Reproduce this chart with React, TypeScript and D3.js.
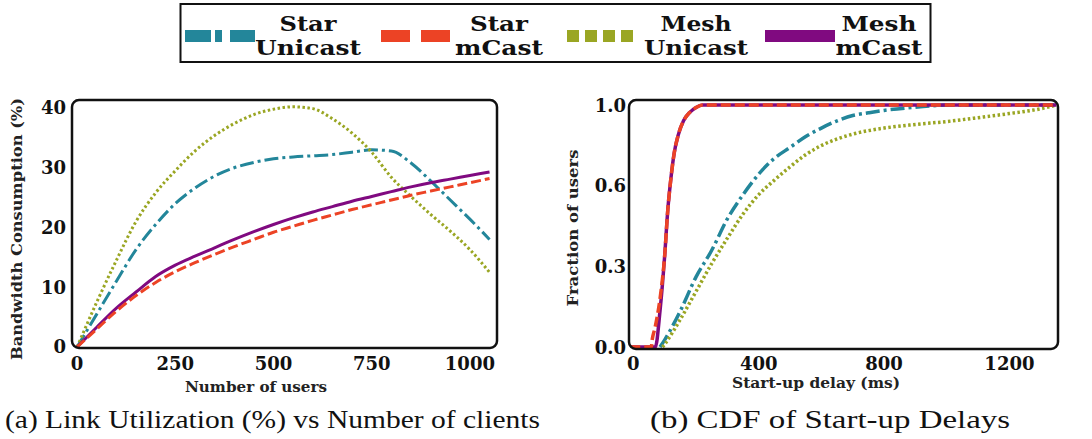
import { useEffect, useRef } from 'react'
import * as d3 from 'd3'

// Left panel: bandwidth consumption vs number of users
const users = [0, 50, 100, 150, 200, 250, 300, 350, 400, 450, 500, 550, 600, 650, 700, 750, 800, 850, 900, 950, 1000, 1050]
const starUnicastBw = [0, 5.5, 11, 16.3, 20.5, 24, 26.6, 28.6, 30, 30.9, 31.5, 31.8, 32, 32.2, 32.6, 33, 32.8, 30.8, 27.8, 24.6, 21.4, 18]
const starMcastBw = [0, 3, 6, 8.6, 10.8, 12.6, 14.1, 15.5, 16.8, 18, 19.2, 20.2, 21.2, 22.1, 23, 23.8, 24.6, 25.4, 26.1, 26.8, 27.5, 28.2]
const meshUnicastBw = [0, 7.5, 14.5, 21, 25.8, 29.5, 32.8, 35.4, 37.4, 38.9, 39.8, 40.2, 39.9, 38.2, 35.8, 32.6, 28.4, 25.2, 22.2, 19.4, 16.3, 12.5]
const meshMcastBw = [0, 3.3, 6.5, 9.2, 11.8, 13.7, 15.2, 16.6, 18, 19.3, 20.5, 21.6, 22.6, 23.5, 24.4, 25.2, 26, 26.8, 27.5, 28.1, 28.7, 29.3]

// Right panel: CDF of start-up delays
const starUnicastDelay = [85, 100, 150, 200, 250, 300, 350, 400, 450, 500, 550, 600, 650, 700, 750, 800, 900, 1000, 1350]
const starUnicastFrac = [0, 0.03, 0.15, 0.29, 0.4, 0.53, 0.63, 0.715, 0.78, 0.825, 0.87, 0.905, 0.935, 0.957, 0.968, 0.978, 0.991, 1, 1]
const starMcastDelay = [-10, 57, 60, 69, 85, 100, 110, 120, 130, 143, 160, 180, 200, 220, 1350]
const starMcastFrac = [0, 0, 0.03, 0.08, 0.2, 0.38, 0.57, 0.7, 0.8, 0.876, 0.935, 0.97, 0.99, 1, 1]
const meshUnicastDelay = [93, 100, 150, 200, 250, 300, 350, 400, 450, 500, 550, 600, 650, 700, 800, 900, 1000, 1100, 1200, 1300, 1350]
const meshUnicastFrac = [0, 0.012, 0.115, 0.23, 0.345, 0.45, 0.55, 0.63, 0.69, 0.745, 0.795, 0.833, 0.86, 0.88, 0.905, 0.92, 0.932, 0.948, 0.965, 0.985, 1]
const meshMcastDelay = [-10, 70, 85, 100, 110, 120, 130, 143, 160, 180, 200, 220, 1350]
const meshMcastFrac = [0, 0, 0.15, 0.38, 0.57, 0.7, 0.8, 0.876, 0.935, 0.97, 0.99, 1, 1]

const bwTicks = [0, 10, 20, 30, 40]
const userTicks = [0, 250, 500, 750, 1000]
const fracTicks = [0, 1 / 3, 2 / 3, 1]
const fracTickLabels = ['0.0', '0.3', '0.6', '1.0']
const delayTicks = [0, 400, 800, 1200]

const COLORS = {
  starUnicast: '#23869a',
  starMcast: '#ec4325',
  meshUnicast: '#9aa623',
  meshMcast: '#800a80',
}

const DASH = {
  starUnicast: '14,4,3,4',
  starMcast: '10,4',
  meshUnicast: '2.5,2.5',
  meshMcast: null as string | null,
}

const tickFont = 'DejaVu Serif'

export default function App() {
  const svgRef = useRef<SVGSVGElement>(null)

  useEffect(() => {
    if (!svgRef.current) return
    const svg = d3.select(svgRef.current)
    svg.selectAll('*').remove()

    svg.append('rect').attr('width', 1092).attr('height', 439).attr('fill', '#fff')

    // ---------- Legend ----------
    const legend = svg.append('g')
    legend
      .append('rect')
      .attr('x', 180.5)
      .attr('y', 4)
      .attr('width', 750)
      .attr('height', 58)
      .attr('fill', 'none')
      .attr('stroke', '#111')
      .attr('stroke-width', 2)

    const legendItems = [
      { key: 'starUnicast', x1: 185, x2: 255, dash: '26,4,7,8', l1: 'Star', l2: 'Unicast', cx: 308, w1: 57, w2: 106 },
      { key: 'starMcast', x1: 381, x2: 451, dash: '29,11', l1: 'Star', l2: 'mCast', cx: 499, w1: 58, w2: 88 },
      { key: 'meshUnicast', x1: 567, x2: 638, dash: '12,6', l1: 'Mesh', l2: 'Unicast', cx: 696, w1: 71, w2: 104 },
      { key: 'meshMcast', x1: 765, x2: 835, dash: null, l1: 'Mesh', l2: 'mCast', cx: 879, w1: 75, w2: 87 },
    ]
    legendItems.forEach((it) => {
      const ln = legend
        .append('line')
        .attr('x1', it.x1)
        .attr('x2', it.x2)
        .attr('y1', 36)
        .attr('y2', 36)
        .attr('stroke', (COLORS as any)[it.key])
        .attr('stroke-width', 12)
      if (it.dash) ln.attr('stroke-dasharray', it.dash)
      legend
        .append('text')
        .attr('x', it.cx)
        .attr('y', 31)
        .attr('text-anchor', 'middle')
        .attr('font-family', tickFont)
        .attr('font-weight', 'bold')
        .attr('font-size', 20)
        .attr('fill', '#111')
        .attr('textLength', it.w1)
        .attr('lengthAdjust', 'spacingAndGlyphs')
        .text(it.l1)
      legend
        .append('text')
        .attr('x', it.cx)
        .attr('y', 55)
        .attr('text-anchor', 'middle')
        .attr('font-family', tickFont)
        .attr('font-weight', 'bold')
        .attr('font-size', 20)
        .attr('fill', '#111')
        .attr('textLength', it.w2)
        .attr('lengthAdjust', 'spacingAndGlyphs')
        .text(it.l2)
    })

    const drawFrame = (x0: number, x1: number, y0: number, y1: number, id: string) => {
      svg
        .append('clipPath')
        .attr('id', id)
        .append('rect')
        .attr('x', x0)
        .attr('y', y0)
        .attr('width', x1 - x0)
        .attr('height', y1 - y0)
        .attr('rx', 7)
    }

    const drawSeries = (
      g: d3.Selection<SVGGElement, unknown, null, undefined>,
      xs: number[],
      ys: number[],
      x: d3.ScaleLinear<number, number>,
      y: d3.ScaleLinear<number, number>,
      key: keyof typeof COLORS,
      width = 3
    ) => {
      const pts = xs.map((v, i) => [v, ys[i]] as [number, number])
      const line = d3
        .line<[number, number]>()
        .x((d) => x(d[0]))
        .y((d) => y(d[1]))
        .curve(d3.curveMonotoneX)
      const p = g
        .append('path')
        .datum(pts)
        .attr('fill', 'none')
        .attr('stroke', COLORS[key])
        .attr('stroke-width', width)
        .attr('d', line)
      const dash = DASH[key]
      if (dash) p.attr('stroke-dasharray', dash)
    }

    // ---------- Left panel ----------
    const L = { x0: 72, x1: 497, y0: 100, y1: 348 }
    const xL = d3.scaleLinear().domain([-13, 1069]).range([L.x0, L.x1])
    const yL = d3.scaleLinear().domain([-0.17, 41.34]).range([L.y1, L.y0])
    drawFrame(L.x0, L.x1, L.y0, L.y1, 'clipL')
    const gL = svg.append('g').attr('clip-path', 'url(#clipL)')
    drawSeries(gL, users, starUnicastBw, xL, yL, 'starUnicast')
    drawSeries(gL, users, meshUnicastBw, xL, yL, 'meshUnicast')
    drawSeries(gL, users, meshMcastBw, xL, yL, 'meshMcast')
    drawSeries(gL, users, starMcastBw, xL, yL, 'starMcast')

    svg
      .append('rect')
      .attr('x', L.x0)
      .attr('y', L.y0)
      .attr('width', L.x1 - L.x0)
      .attr('height', L.y1 - L.y0)
      .attr('rx', 7)
      .attr('fill', 'none')
      .attr('stroke', '#111')
      .attr('stroke-width', 2.5)

    bwTicks.forEach((t) => {
      svg
        .append('text')
        .attr('x', 66)
        .attr('y', yL(t))
        .attr('dy', '0.36em')
        .attr('text-anchor', 'end')
        .attr('font-family', tickFont)
        .attr('font-weight', 'bold')
        .attr('font-size', 18)
        .attr('fill', '#111')
        .text(String(t))
    })
    userTicks.forEach((t) => {
      svg
        .append('text')
        .attr('x', xL(t))
        .attr('y', 370)
        .attr('text-anchor', 'middle')
        .attr('font-family', tickFont)
        .attr('font-weight', 'bold')
        .attr('font-size', 18)
        .attr('fill', '#111')
        .text(String(t))
    })
    svg
      .append('text')
      .attr('x', 256)
      .attr('y', 392)
      .attr('text-anchor', 'middle')
      .attr('font-family', tickFont)
      .attr('font-weight', 'bold')
      .attr('font-size', 14)
      .attr('fill', '#222')
      .attr('textLength', 142)
      .attr('lengthAdjust', 'spacingAndGlyphs')
      .text('Number of users')
    svg
      .append('text')
      .attr('transform', 'translate(22,229) rotate(-90)')
      .attr('text-anchor', 'middle')
      .attr('font-family', tickFont)
      .attr('font-weight', 'bold')
      .attr('font-size', 14)
      .attr('fill', '#222')
      .attr('textLength', 262)
      .attr('lengthAdjust', 'spacingAndGlyphs')
      .text('Bandwidth Consumption (%)')

    // ---------- Right panel ----------
    const R = { x0: 629, x1: 1058, y0: 100, y1: 349 }
    const xR = d3.scaleLinear().domain([-14, 1355]).range([R.x0, R.x1])
    const yR = d3.scaleLinear().domain([-0.008, 1.021]).range([R.y1, R.y0])
    drawFrame(R.x0, R.x1, R.y0, R.y1, 'clipR')
    const gR = svg.append('g').attr('clip-path', 'url(#clipR)')
    drawSeries(gR, starUnicastDelay, starUnicastFrac, xR, yR, 'starUnicast', 3.5)
    drawSeries(gR, meshUnicastDelay, meshUnicastFrac, xR, yR, 'meshUnicast', 3.5)
    drawSeries(gR, meshMcastDelay, meshMcastFrac, xR, yR, 'meshMcast', 3.5)
    drawSeries(gR, starMcastDelay, starMcastFrac, xR, yR, 'starMcast', 3.5)

    svg
      .append('rect')
      .attr('x', R.x0)
      .attr('y', R.y0)
      .attr('width', R.x1 - R.x0)
      .attr('height', R.y1 - R.y0)
      .attr('rx', 7)
      .attr('fill', 'none')
      .attr('stroke', '#111')
      .attr('stroke-width', 2.5)

    fracTicks.forEach((t, i) => {
      svg
        .append('text')
        .attr('x', 626)
        .attr('y', yR(t))
        .attr('dy', '0.36em')
        .attr('text-anchor', 'end')
        .attr('font-family', tickFont)
        .attr('font-weight', 'bold')
        .attr('font-size', 18)
        .attr('fill', '#111')
        .text(fracTickLabels[i])
    })
    delayTicks.forEach((t) => {
      svg
        .append('text')
        .attr('x', xR(t))
        .attr('y', 370)
        .attr('text-anchor', 'middle')
        .attr('font-family', tickFont)
        .attr('font-weight', 'bold')
        .attr('font-size', 18)
        .attr('fill', '#111')
        .text(String(t))
    })
    svg
      .append('text')
      .attr('x', 816)
      .attr('y', 388)
      .attr('text-anchor', 'middle')
      .attr('font-family', tickFont)
      .attr('font-weight', 'bold')
      .attr('font-size', 14)
      .attr('fill', '#222')
      .attr('textLength', 168)
      .attr('lengthAdjust', 'spacingAndGlyphs')
      .text('Start-up delay (ms)')
    svg
      .append('text')
      .attr('transform', 'translate(578,228) rotate(-90)')
      .attr('text-anchor', 'middle')
      .attr('font-family', tickFont)
      .attr('font-weight', 'bold')
      .attr('font-size', 14)
      .attr('fill', '#222')
      .attr('textLength', 157)
      .attr('lengthAdjust', 'spacingAndGlyphs')
      .text('Fraction of users')

    // ---------- Captions ----------
    svg
      .append('text')
      .attr('x', 5)
      .attr('y', 428)
      .attr('font-family', 'Liberation Serif')
      .attr('font-size', 26)
      .attr('fill', '#111')
      .attr('textLength', 535)
      .attr('lengthAdjust', 'spacingAndGlyphs')
      .text('(a) Link Utilization (%) vs Number of clients')
    svg
      .append('text')
      .attr('x', 650)
      .attr('y', 428)
      .attr('font-family', 'Liberation Serif')
      .attr('font-size', 26)
      .attr('fill', '#111')
      .attr('textLength', 360)
      .attr('lengthAdjust', 'spacingAndGlyphs')
      .text('(b) CDF of Start-up Delays')
  }, [])

  return (
    <div style={{ position: 'absolute', left: 0, top: 0 }}>
      <svg ref={svgRef} width={1092} height={439} style={{ display: 'block' }}></svg>
    </div>
  )
}
